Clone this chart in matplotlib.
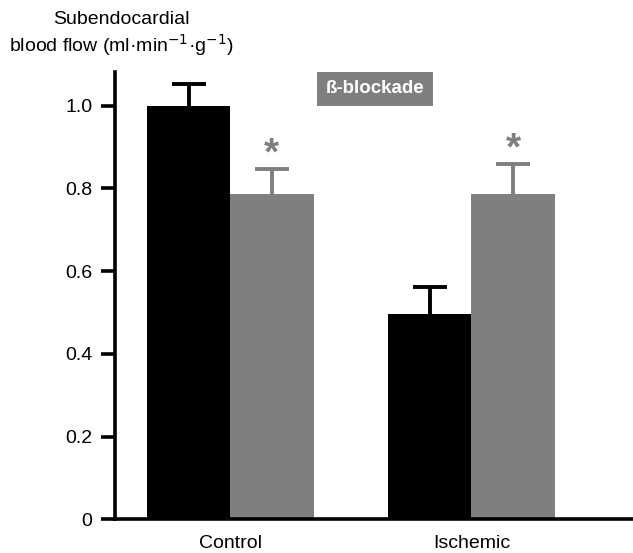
import matplotlib
matplotlib.use("Agg")
import matplotlib.pyplot as plt
import numpy as np

plt.rcParams["font.family"] = ["Liberation Sans", "DejaVu Sans"]

groups = ["Control", "Ischemic"]
baseline = [1.00, 0.495]
baseline_err = [0.053, 0.067]
blockade = [0.785, 0.786]
blockade_err = [0.061, 0.072]
yticks = [0, 0.2, 0.4, 0.6, 0.8, 1.0]
ytick_labels = ["0", "0.2", "0.4", "0.6", "0.8", "1.0"]

black = "#000000"
grey = "#7f7f7f"

fig = plt.figure(figsize=(6.33, 5.53), dpi=100)
ax = fig.add_axes([0.181, 0.061, 0.819, 0.808])

x = np.arange(len(groups))
w = 0.345

ax.bar(x - w / 2, baseline, width=w, color=black, zorder=2)
ax.bar(x + w / 2, blockade, width=w, color=grey, zorder=2)

# upper-only error bars: drop the lower caps that sit on the bar tops
for xs, vals, errs, col in [(x - w / 2, baseline, baseline_err, black),
                            (x + w / 2, blockade, blockade_err, grey)]:
    _, caps, _ = ax.errorbar(xs, vals, yerr=[np.zeros(2), errs], fmt="none",
                             ecolor=col, elinewidth=2.8, capsize=12,
                             capthick=2.8, zorder=1)
    caps[0].set_visible(False)

# significance markers above the blockade bars
for xi, v, e in zip(x, blockade, blockade_err):
    ax.text(xi + w / 2, v + e + 0.035, "*", ha="center", va="center",
            fontsize=28, fontweight="bold", color=grey)

ax.set_xlim(-0.48, 1.67)
ax.set_ylim(0, 1.08)
ax.set_xticks(x)
ax.set_xticklabels(groups, fontsize=14)
ax.set_yticks(yticks)
ax.set_yticklabels(ytick_labels, fontsize=14)

for side in ["top", "right"]:
    ax.spines[side].set_visible(False)
for side in ["left", "bottom"]:
    ax.spines[side].set_linewidth(2.6)
ax.tick_params(axis="y", length=10, width=2.6, pad=6)
ax.tick_params(axis="x", length=0, pad=11)

fig.text(0.191, 0.895, "Subendocardial\nblood flow (ml·min$^{-1}$·g$^{-1}$)",
         fontsize=14, ha="center", va="bottom", linespacing=1.2)

ax.text(0.60, 1.04, "ß-blockade", fontsize=13.5, fontweight="bold",
        color="white", ha="center", va="center", clip_on=False,
        bbox=dict(boxstyle="square,pad=0.45", facecolor=grey, edgecolor="none"))

fig.savefig("out.png", dpi=100, facecolor="white")
